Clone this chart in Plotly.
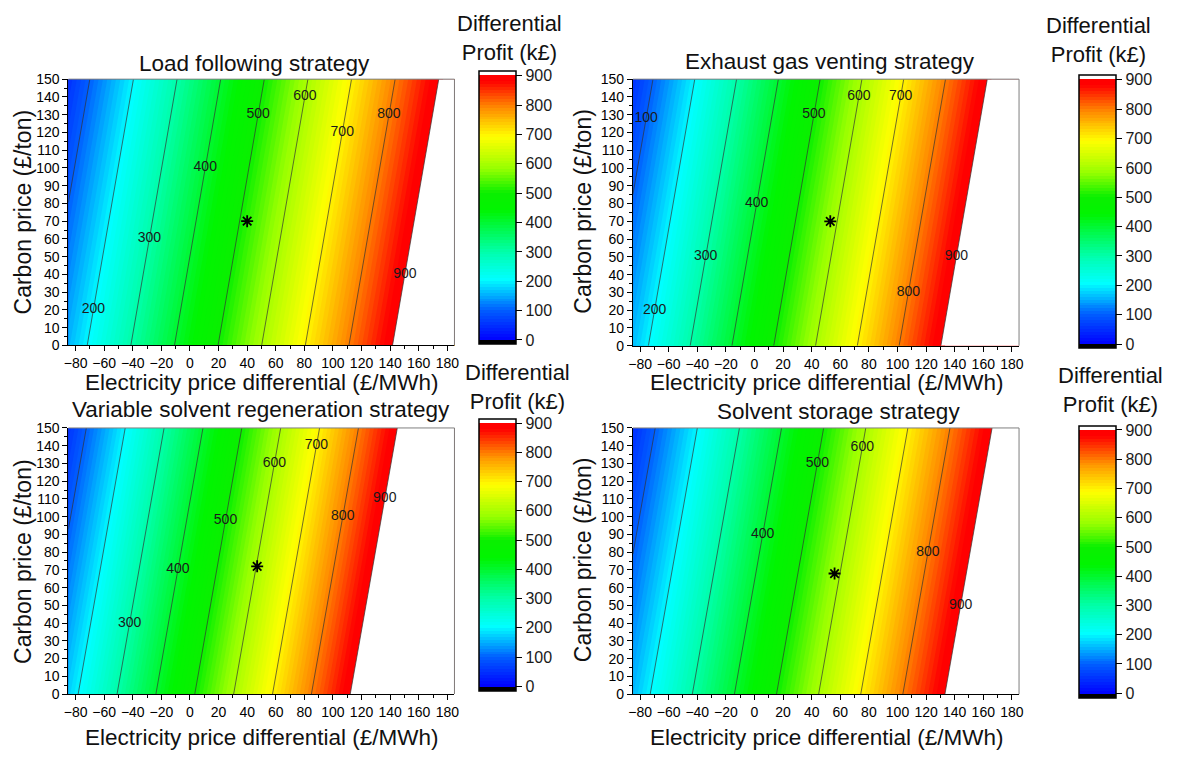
import plotly.graph_objects as go

# ---------------- data ----------------
price_corners = [-85, 185]      # electricity price differential (£/MWh) at plot edges
carbon_corners = [0, 150]       # carbon price (£/ton) at plot edges

# differential profit (k£) at the grid corners; rows = carbon price 0, 150
load_following_profit = [[157, 1042], [51, 936]]
exhaust_venting_profit = [[163, 1087], [52, 976]]
variable_regen_profit = [[175, 1168], [54, 1047]]
solvent_storage_profit = [[159, 1076], [47, 964]]

# operating point (asterisk) for each strategy
star_price = [40, 53, 47, 56]
star_carbon = [70, 70, 72, 68]

# contour labels: level and the carbon price where its label sits
lf_label_levels = [200, 300, 400, 500, 600, 700, 800, 900]
lf_label_carbon = [20, 60, 100, 130, 140, 120, 130, 40]
egv_label_levels = [100, 200, 300, 400, 500, 600, 700, 800, 900]
egv_label_carbon = [128, 20, 50, 80, 130, 140, 140, 30, 50]
vsr_label_levels = [300, 400, 500, 600, 700, 800, 900]
vsr_label_carbon = [40, 70, 98, 130, 140, 100, 110]
ss_label_levels = [400, 500, 600, 800, 900]
ss_label_carbon = [90, 130, 139, 80, 50]

strategy_titles = ["Load following strategy", "Exhaust gas venting strategy",
                   "Variable solvent regeneration strategy", "Solvent storage strategy"]
x_tick_vals = list(range(-80, 181, 20))
y_tick_vals = list(range(0, 151, 10))
cbar_tick_vals = list(range(0, 901, 100))
line_levels = dict(start=100, end=900, size=100)

profits = [load_following_profit, exhaust_venting_profit,
           variable_regen_profit, solvent_storage_profit]
label_levels = [lf_label_levels, egv_label_levels, vsr_label_levels, ss_label_levels]
label_carbon = [lf_label_carbon, egv_label_carbon, vsr_label_carbon, ss_label_carbon]

# ---------------- styling ----------------
W, H = 1180, 759
FONT = "Liberation Sans, Arial, sans-serif"

# fill contours from -10 to 910 with 10-unit bands; colormap domain = [-15, 915]
FILL_START, FILL_END, FILL_SIZE = -10, 910, 10
dom0, dom1 = FILL_START - FILL_SIZE / 2, FILL_END + FILL_SIZE / 2
anchors = [(-15, "rgb(0,0,0)"), (-1, "rgb(0,0,0)"), (0, "rgb(0,0,255)"),
           (100, "rgb(0,95,255)"), (205, "rgb(0,255,255)"), (300, "rgb(0,255,170)"),
           (440, "rgb(0,245,0)"), (500, "rgb(10,240,0)"), (580, "rgb(150,255,0)"),
           (690, "rgb(255,255,0)"), (790, "rgb(255,140,0)"), (880, "rgb(255,0,0)"),
           (900, "rgb(255,0,0)"), (901, "rgb(255,255,255)"), (915, "rgb(255,255,255)")]
colorscale = [[(v - dom0) / (dom1 - dom0), c] for v, c in anchors]

# pixel layout (left, top, right, bottom) of each plot area
plot_px = [(64, 72.7, 453.3, 344.7), (633.3, 72.7, 1022.7, 345),
           (64, 429, 453.3, 700.8), (633.3, 429, 1022.7, 701)]
# colorbar bar (left, top, bottom)
cbar_px = [(477.7, 67.7, 340.7), (1083.3, 71.7, 345),
           (477.7, 422.7, 694.3), (1082.7, 429.3, 701.7)]
title_px = [(252, 57), (832, 55), (258, 410), (841, 412)]
xtitle_px = [(259, 383), (829, 383), (259, 745), (829, 745)]
ytitle_px = [(18, 208), (583, 208), (18, 565), (583, 564)]
ctitle_px = [(509, 30.5), (1103, 32.5), (517, 387.5), (1115, 390)]


def px(x):
    return x / W


def py(y):
    return 1 - y / H


def label_price(grid, level, carbon):
    """Electricity price where the contour `level` crosses `carbon` on the corner grid."""
    f = (carbon - carbon_corners[0]) / (carbon_corners[1] - carbon_corners[0])
    z_left = grid[0][0] * (1 - f) + grid[1][0] * f
    z_right = grid[0][1] * (1 - f) + grid[1][1] * f
    return price_corners[0] + (level - z_left) / (z_right - z_left) * (price_corners[1] - price_corners[0])


fig = go.Figure()
layout = dict(width=W, height=H, margin=dict(l=0, r=0, t=0, b=0),
              paper_bgcolor="white", plot_bgcolor="white",
              font=dict(family=FONT, color="#111111"), showlegend=False,
              annotations=[], shapes=[])

for i in range(4):
    n = "" if i == 0 else str(i + 1)
    xa, ya = "x" + n, "y" + n
    l, t, r, b = plot_px[i]
    layout["xaxis" + n] = dict(
        domain=[px(l), px(r)], range=[price_corners[0], price_corners[1]], anchor=ya,
        tickvals=x_tick_vals, ticks="outside", ticklen=5, tickwidth=1, tickcolor="black",
        showline=True, linecolor="black", linewidth=1, showgrid=False, zeroline=False,
        tickfont=dict(size=14, color="black", family=FONT),
        minor=dict(dtick=10, tick0=0, ticks="outside", ticklen=3, tickcolor="black", showgrid=False))
    layout["yaxis" + n] = dict(
        domain=[py(b), py(t)], range=[carbon_corners[0], carbon_corners[1]], anchor=xa,
        tickvals=y_tick_vals, ticks="outside", ticklen=5, tickwidth=1, tickcolor="black",
        showline=True, linecolor="black", linewidth=1, showgrid=False, zeroline=False,
        tickfont=dict(size=14, color="black", family=FONT),
        minor=dict(dtick=5, tick0=0, ticks="outside", ticklen=3, tickcolor="black", showgrid=False))

    cl, ct, cb = cbar_px[i]
    fig.add_trace(go.Contour(
        x=price_corners, y=carbon_corners, z=profits[i], xaxis=xa, yaxis=ya,
        autocontour=False,
        contours=dict(start=FILL_START, end=FILL_END, size=FILL_SIZE, coloring="fill",
                      showlines=False),
        line=dict(width=0), colorscale=colorscale, showscale=True, hoverinfo="skip",
        colorbar=dict(x=px(cl), xanchor="left", xpad=0, y=py((ct + cb) / 2),
                      yanchor="middle", ypad=0, len=cb - ct, lenmode="pixels",
                      thickness=37, thicknessmode="pixels", outlinecolor="black",
                      outlinewidth=1.5, tickvals=cbar_tick_vals, ticks="outside",
                      ticklen=6, tickcolor="black",
                      tickfont=dict(size=16, color="#1a1a1a", family=FONT),
                      title=dict(text=""))))
    fig.add_trace(go.Contour(
        x=price_corners, y=carbon_corners, z=profits[i], xaxis=xa, yaxis=ya,
        autocontour=False,
        contours=dict(coloring="none", showlabels=False, **line_levels),
        line=dict(color="#333333", width=0.7), showscale=False, hoverinfo="skip"))
    fig.add_trace(go.Scatter(
        x=[label_price(profits[i], lv, cy) for lv, cy in zip(label_levels[i], label_carbon[i])],
        y=label_carbon[i], xaxis=xa, yaxis=ya, mode="text",
        text=[str(lv) for lv in label_levels[i]], textposition="middle center",
        textfont=dict(size=14, color="#1a1a1a", family=FONT), hoverinfo="skip"))
    fig.add_trace(go.Scatter(
        x=[star_price[i]], y=[star_carbon[i]], xaxis=xa, yaxis=ya, mode="markers",
        marker=dict(symbol="asterisk-open", size=10, color="black",
                    line=dict(width=1.8, color="black"))))

    # grey top/right frame
    layout["shapes"] += [
        dict(type="line", xref=xa + " domain", yref=ya + " domain", x0=0, x1=1, y0=1, y1=1,
             line=dict(color="#7f7f7f", width=1)),
        dict(type="line", xref=xa + " domain", yref=ya + " domain", x0=1, x1=1, y0=0, y1=1,
             line=dict(color="#7f7f7f", width=1))]

    tx, ty = title_px[i]
    layout["annotations"].append(dict(
        text=strategy_titles[i], x=px(tx), y=py(ty), xref="paper", yref="paper",
        xanchor="center", yanchor="middle", showarrow=False, font=dict(size=22.5)))
    tx, ty = xtitle_px[i]
    layout["annotations"].append(dict(
        text="Electricity price differential (£/MWh)", x=px(tx), y=py(ty), xref="paper",
        yref="paper", xanchor="center", yanchor="middle", showarrow=False, font=dict(size=22.5)))
    tx, ty = ytitle_px[i]
    layout["annotations"].append(dict(
        text="Carbon price (£/ton)", x=px(tx), y=py(ty), xref="paper", yref="paper",
        xanchor="center", yanchor="middle", showarrow=False, textangle=-90,
        font=dict(size=23)))
    tx, ty = ctitle_px[i]
    layout["annotations"].append(dict(
        text="Differential<br>Profit (k£)", x=px(tx), y=py(ty), xref="paper", yref="paper",
        xanchor="center", yanchor="middle", showarrow=False, font=dict(size=22)))

fig.update_layout(**layout)
fig.write_html("out.html")
